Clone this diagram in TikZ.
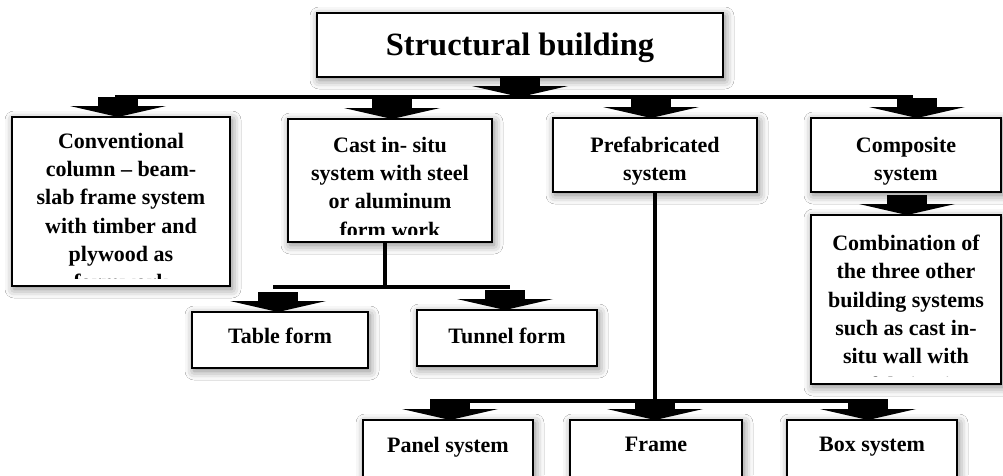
\documentclass[tikz,border=0pt]{standalone}
\usepackage{fontspec}
\setmainfont{Liberation Serif}
\usetikzlibrary{shadows.blur}

\tikzset{
  box/.style={draw, line width=2.2pt, fill=white, rectangle, inner sep=0pt, outer sep=0pt,
    blur shadow={shadow xshift=2pt, shadow yshift=-3pt, shadow blur radius=9pt, shadow opacity=50}},
  lbl/.style={font=\fontsize{22}{28.3}\selectfont\bfseries, align=center, inner sep=0pt,
    minimum width=0pt, minimum height=0pt, draw=none, fill=none},
  conn/.style={line width=3.5pt},
  % text hung from the top of a box and cut off by the box's inner margin
  boxtext/.style 2 args={path picture={
    \clip ([yshift=8pt]path picture bounding box.south west) rectangle (path picture bounding box.north east);
    \node[lbl, anchor=north] at ([yshift=-#1]path picture bounding box.north) {#2};}},
  % block arrow, apex at the origin, stem above it
  barrow/.pic={
    \fill (-20,-20) rectangle (20,-10.5);
    \fill (-48,-11) -- (48,-11) -- (0,0) -- cycle;},
}

\begin{document}
\begin{tikzpicture}[x=1pt, y=-1pt]
\path[use as bounding box] (0,0) rectangle (1003,475);
\clip (0,0) rectangle (1003,475);
\fill[white] (0,0) rectangle (1003,475);

% top level
\node[box, minimum width=406pt, minimum height=64pt,
  boxtext={20pt}{\fontsize{32.5}{38}\selectfont Structural building}] (title) at (520,45) {};

% second level
\node[box, minimum width=218pt, minimum height=169pt,
  boxtext={16pt}{Conventional\\column – beam-\\slab frame system\\with timber and\\plywood as\\formwork}] (conv) at (121,201.5) {};
\node[box, minimum width=204pt, minimum height=123pt,
  boxtext={18pt}{Cast in- situ\\system with steel\\or aluminum\\form work}] (cast) at (390,180.5) {};
\node[box, minimum width=204pt, minimum height=74pt,
  boxtext={19pt}{Prefabricated\\system}] (prefab) at (655,155) {};
\node[box, minimum width=190pt, minimum height=74pt,
  boxtext={19pt}{Composite\\system}] (comp) at (906,155) {};

% third level
\node[box, minimum width=190pt, minimum height=169pt,
  boxtext={20pt}{Combination of\\the three other\\building systems\\such as cast in-\\situ wall with\\prefabrication}] (comb) at (906,299.5) {};
\node[box, minimum width=176pt, minimum height=56pt,
  boxtext={16pt}{Table form}] (table) at (280,340) {};
\node[box, minimum width=180pt, minimum height=56pt,
  boxtext={18pt}{Tunnel form}] (tunnel) at (507,338) {};
\node[box, minimum width=170pt, minimum height=65pt,
  boxtext={17pt}{Panel system}] (panel) at (448,452.5) {};
\node[box, minimum width=172pt, minimum height=65pt,
  boxtext={17pt}{Frame}] (frame) at (656,452.5) {};
\node[box, minimum width=170pt, minimum height=65pt,
  boxtext={17pt}{Box system}] (boxsys) at (872,452.5) {};

% junction lines
\coordinate (bus) at (517,97);
\coordinate (tt) at (385,287);
\coordinate (pt) at (655,401);

\draw[conn] ([xshift=-6pt]conv.north |- bus) -- ([xshift=7pt]comp.north |- bus);
\draw[conn] (cast.south -| tt) -- (tt);
\draw[conn] ([xshift=-7pt]table.north |- tt) -- ([xshift=3pt]tunnel.north |- tt);
\draw[conn] (prefab.south) -- (pt);
\draw[conn] ([xshift=-18pt]panel.north |- pt) -- ([xshift=16pt]boxsys.north |- pt);

% block arrows
\pic at (title.south |- bus) {barrow};
\pic at ([xshift=-3pt]conv.north) {barrow};
\pic at ([xshift=2pt]cast.north) {barrow};
\pic at ([xshift=-4pt]prefab.north) {barrow};
\pic at ([xshift=11pt]comp.north) {barrow};
\pic at ([xshift=1pt]comb.north) {barrow};
\pic at ([xshift=-2pt]table.north) {barrow};
\pic at ([xshift=-2pt]tunnel.north) {barrow};
\pic at ([xshift=2pt]panel.north) {barrow};
\pic at ([xshift=-1pt]frame.north) {barrow};
\pic at ([xshift=-4pt]boxsys.north) {barrow};
\end{tikzpicture}
\end{document}
